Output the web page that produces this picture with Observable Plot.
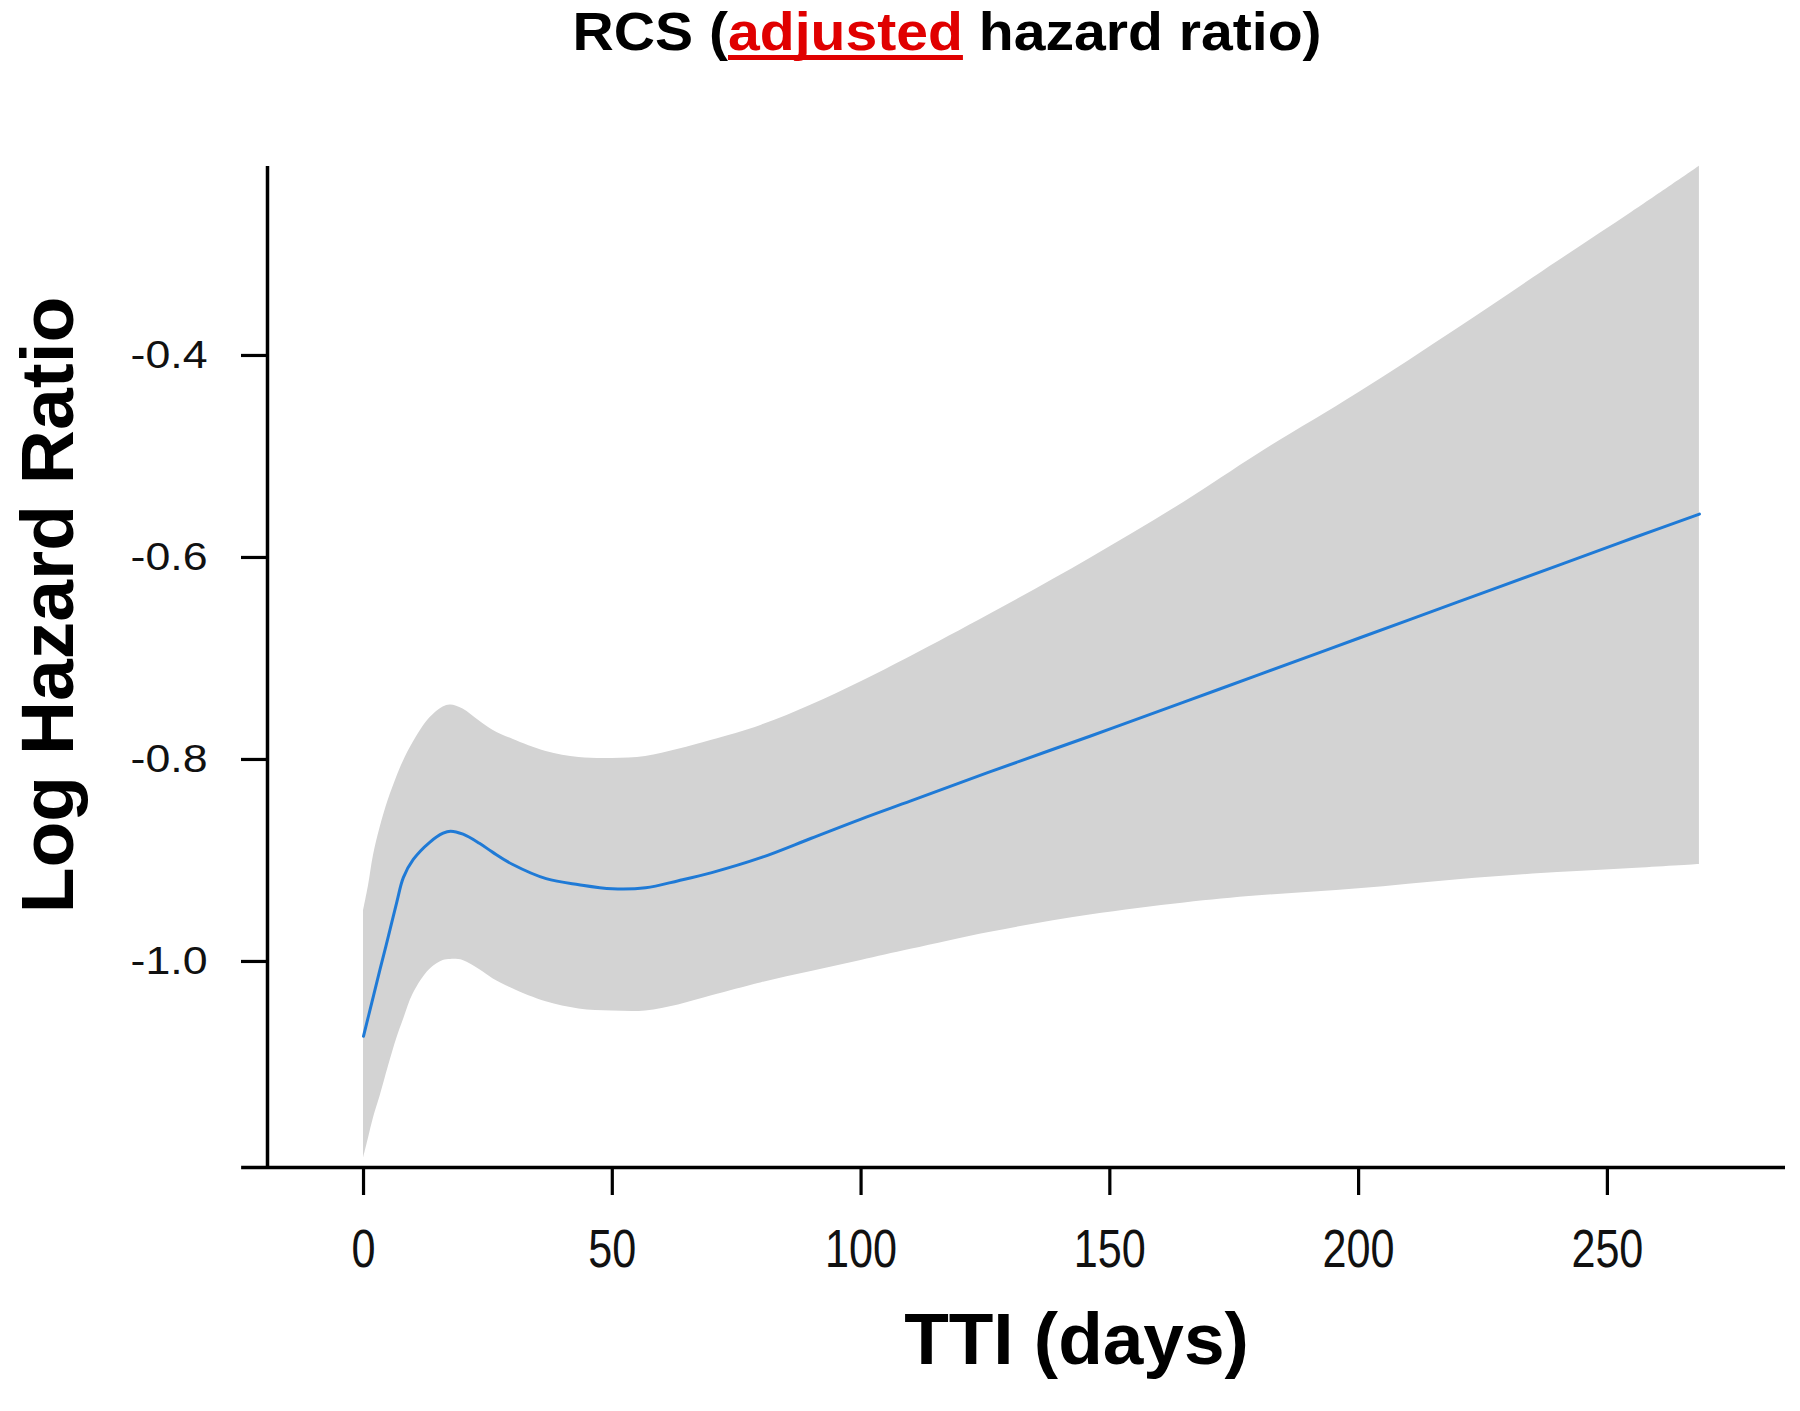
<!DOCTYPE html>
<html>
<head>
<meta charset="utf-8">
<script src="https://cdn.jsdelivr.net/npm/d3@7"></script>
<script src="https://cdn.jsdelivr.net/npm/@observablehq/plot@0.6"></script>
<style>
  body { margin: 0; background: #fff; }
  #title { position: relative; width: 1800px; height: 100px;
           font-family: "Liberation Sans", Arial, sans-serif; font-weight: bold; font-size: 54px; color: #000; }
  #title .row { position: absolute; left: 0; top: 0; width: 1800px; box-sizing: border-box; padding-left: 94px;
                text-align: center; line-height: 62px; }
  #title .inner { display: inline-block; transform: scaleX(1.058); transform-origin: center; white-space: nowrap; }
  #title .adj { color: #e00000; text-decoration: underline; text-decoration-color: #e00000;
                text-decoration-thickness: 5px; text-underline-offset: 5px; text-decoration-skip-ink: none; }
  #chart svg { display: block; }
</style>
</head>
<body>
<div id="title"><div class="row"><span class="inner">RCS (<span class="adj">adjusted</span> hazard ratio)</span></div></div>
<div id="chart"></div>
<script>
// ---- data ----
const days  = [0, 1, 2, 3.3, 5, 6.7, 8, 10, 13.3, 16, 17.5, 20, 23.3, 26, 30, 36.7, 43.3, 50, 56.7, 63.3, 70, 80, 90, 100, 110, 126, 146, 165, 180, 200, 220, 240, 255, 268.5];
const est   = [-1.074, -1.054, -1.034, -1.008, -0.975, -0.941, -0.917, -0.899, -0.882, -0.873, -0.871, -0.874, -0.883, -0.892, -0.904, -0.918, -0.924, -0.928, -0.927, -0.920, -0.912, -0.897, -0.878, -0.859, -0.841, -0.812, -0.777, -0.743, -0.716, -0.680, -0.644, -0.608, -0.581, -0.557];
const upper = [-0.950, -0.925, -0.895, -0.868, -0.840, -0.817, -0.802, -0.783, -0.759, -0.748, -0.746, -0.750, -0.762, -0.771, -0.780, -0.792, -0.798, -0.799, -0.797, -0.790, -0.781, -0.766, -0.746, -0.723, -0.698, -0.656, -0.601, -0.545, -0.497, -0.437, -0.373, -0.307, -0.258, -0.2126];
const lower = [-1.195, -1.175, -1.155, -1.134, -1.104, -1.076, -1.058, -1.032, -1.008, -0.999, -0.998, -0.999, -1.008, -1.017, -1.027, -1.040, -1.047, -1.049, -1.049, -1.043, -1.034, -1.021, -1.010, -0.999, -0.988, -0.971, -0.954, -0.942, -0.935, -0.928, -0.919, -0.912, -0.908, -0.904];

const xTicks = [0, 50, 100, 150, 200, 250];
const yTicks = [-1.0, -0.8, -0.6, -0.4];
const xDomain = [-19.3, 285.8];
const yDomain = [-1.204, -0.2129];
const xAxisLineStart = -24.5; // x axis line extends left of the y axis

const titleY = "Log Hazard Ratio";
const titleX = "TTI (days)";

const rows = days.map((d, i) => ({day: d, est: est[i], upper: upper[i], lower: lower[i]}));

const chart = Plot.plot({
  width: 1800,
  height: 1311,
  marginLeft: 267,
  marginRight: 15,
  marginTop: 66,
  marginBottom: 244,
  style: { fontFamily: '"Liberation Sans", Arial, sans-serif', background: "#fff", color: "#111" },
  x: { domain: xDomain },
  y: { domain: yDomain },
  marks: [
    Plot.areaY(rows, { x: "day", y1: "lower", y2: "upper", fill: "#d3d3d3", curve: "catmull-rom" }),
    Plot.lineY(rows, { x: "day", y: "est", stroke: "#1f7ad6", strokeWidth: 3, curve: "catmull-rom" }),
    Plot.axisY({ ticks: yTicks, tickFormat: d => d.toFixed(1), tickSize: 26, tickPadding: 34, fontSize: 38, strokeWidth: 3.2, label: null, stroke: "#000" }),
    Plot.axisX({ ticks: xTicks, tickFormat: d => String(d), tickSize: 28, tickPadding: 34, fontSize: 53, strokeWidth: 3.2, label: null, stroke: "#000" }),
    Plot.ruleX([xDomain[0]], { stroke: "#000", strokeWidth: 3.5 }),
    Plot.ruleY([yDomain[0]], { x1: () => xAxisLineStart, x2: () => xDomain[1], stroke: "#000", strokeWidth: 3.5 }),
    Plot.text([titleY], { text: d => d, frameAnchor: "left", rotate: -90, dx: -219, dy: -62, fontSize: 75, fontWeight: "bold", fill: "#000", textAnchor: "middle", ariaLabel: "y-title" }),
    Plot.text([titleX], { text: d => d, frameAnchor: "bottom", dx: 50, dy: 196, fontSize: 73, fontWeight: "bold", fill: "#000", textAnchor: "middle", ariaLabel: "x-title" })
  ]
});

// stretch texts to match the reference glyph proportions
chart.querySelectorAll('g[aria-label="x-axis tick label"] text').forEach(t => {
  t.setAttribute("textLength", 24 * t.textContent.length);
  t.setAttribute("lengthAdjust", "spacingAndGlyphs");
});
chart.querySelectorAll('g[aria-label="y-axis tick label"] text').forEach(t => {
  t.setAttribute("textLength", 77);
  t.setAttribute("lengthAdjust", "spacingAndGlyphs");
});
chart.querySelectorAll('g[aria-label="y-title"] text').forEach(t => {
  t.setAttribute("textLength", 625);
  t.setAttribute("lengthAdjust", "spacingAndGlyphs");
});
chart.querySelectorAll('g[aria-label="x-title"] text').forEach(t => {
  t.setAttribute("textLength", 355);
  t.setAttribute("lengthAdjust", "spacingAndGlyphs");
});

document.getElementById("chart").appendChild(chart);
</script>
</body>
</html>
